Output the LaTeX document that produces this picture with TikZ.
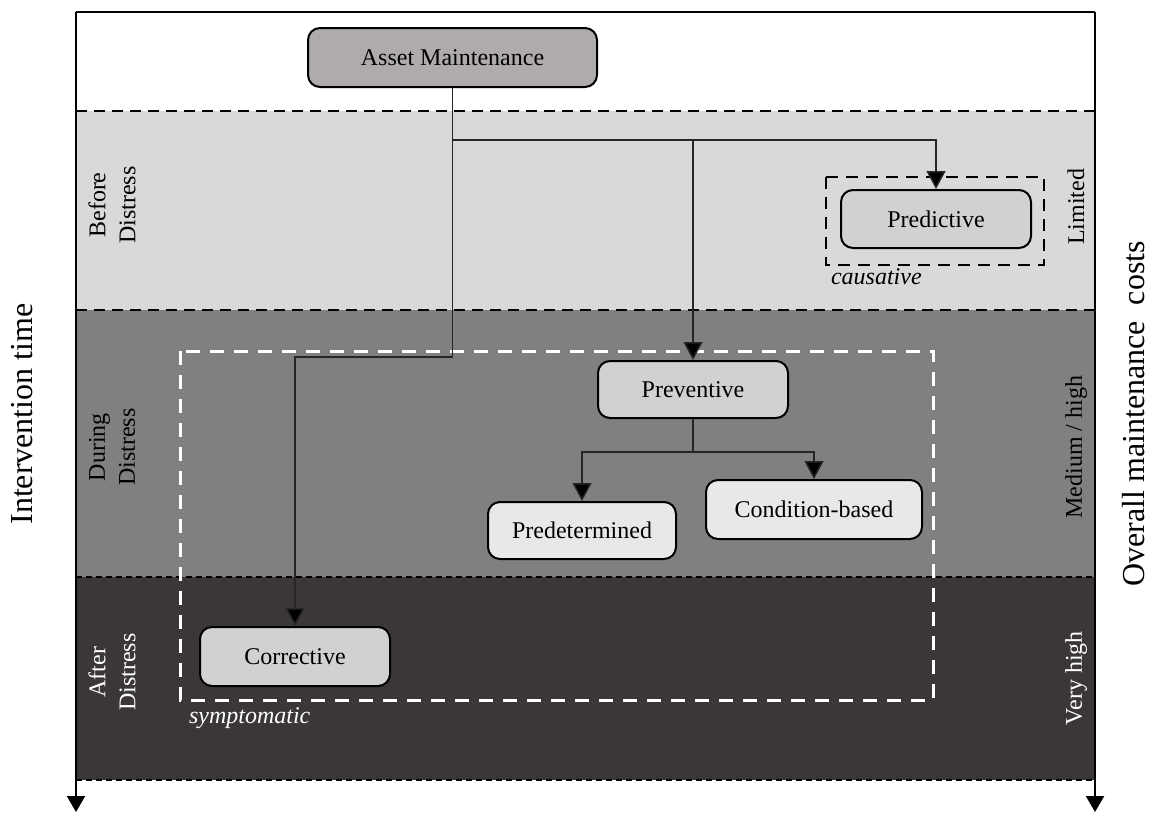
\documentclass[tikz,border=0pt]{standalone}
\usepackage{fontspec}
\setmainfont{Liberation Serif}
\usetikzlibrary{arrows.meta}
\definecolor{bandlight}{HTML}{D9D9D9}
\definecolor{bandmid}{HTML}{808080}
\definecolor{banddark}{HTML}{3B3737}
\definecolor{boxtop}{HTML}{B0ABAB}
\definecolor{boxmid}{HTML}{D3D0D0}
\definecolor{boxpale}{HTML}{E8E8E8}
\definecolor{linkgray}{HTML}{262626}
\tikzset{
  stage/.style={draw=black, line width=1pt, rounded corners=6pt, font=\fontsize{12}{14}\selectfont, inner sep=0pt},
  link/.style={draw=linkgray, line width=0.75pt, -{Triangle[width=9.5pt,length=9pt,fill=black]}},
  plainlink/.style={draw=linkgray, line width=0.75pt},
  axis/.style={draw=black, line width=1pt, -{Triangle[width=9pt,length=8pt]}},
  sep/.style={draw=black, line width=1.2pt, dash pattern=on 5.5pt off 3.5pt},
  sepfine/.style={draw=black, line width=0.8pt, dash pattern=on 3pt off 2pt},
  sidelabel/.style={rotate=90, align=center, font=\fontsize{12}{15}\selectfont},
  axislabel/.style={rotate=90, font=\fontsize{16}{19}\selectfont},
  tag/.style={font=\fontsize{12}{14}\selectfont\itshape, anchor=west},
}
\begin{document}
\begin{tikzpicture}[x=0.5pt,y=-0.5pt]
\useasboundingbox (0,0) rectangle (1149,814);

% bands of the time axis
\fill[bandlight] (76,111) rectangle (1095,310);
\fill[bandmid]   (76,310) rectangle (1095,577);
\fill[banddark]  (76,577) rectangle (1095,780);

% separators between bands
\draw[sep] (76,111) -- (1095,111);
\draw[sep] (76,310) -- (1095,310);
\draw[sepfine] (76,577) -- (1095,577);
\draw[sepfine] (76,780) -- (1095,780);

% frame and the two axes
\draw[black, line width=1pt] (76,12) -- (1095,12);
\coordinate (ltop) at (76,12);
\coordinate (lend) at (76,812);
\coordinate (rtop) at (1095,12);
\coordinate (rend) at (1095,812);
\draw[axis] (ltop) -- (lend);
\draw[axis] (rtop) -- (rend);

% grouping frames
\draw[white, line width=1.5pt, dash pattern=on 7pt off 5pt] (180,351) rectangle (933,700);
\draw[black, line width=1pt, dash pattern=on 6pt off 4pt] (826,177) rectangle (1044,265);

% maintenance types
\node[stage, fill=boxtop, minimum width=144.5pt, minimum height=29.5pt] (am) at (452.5,57.5) {Asset Maintenance};
\node[stage, fill=boxmid, minimum width=95pt, minimum height=29pt] (pred) at (936,219) {Predictive};
\node[stage, fill=boxmid, minimum width=95pt, minimum height=28.5pt] (prev) at (693,389.5) {Preventive};
\node[stage, fill=boxpale, minimum width=94pt, minimum height=28.5pt] (pdet) at (582,530.5) {Predetermined};
\node[stage, fill=boxpale, minimum width=108pt, minimum height=29.5pt] (cond) at (814,509.5) {Condition-based};
\node[stage, fill=boxmid, minimum width=95pt, minimum height=29.5pt] (corr) at (295,656.5) {Corrective};

% connectors
\coordinate (yfork) at (0,140);
\coordinate (ycorr) at (0,357);
\coordinate (ysub) at (0,452);
\draw[plainlink] (am.south) -- (am.south |- ycorr);
\draw[link] (am.south |- ycorr) -| (corr.north);
\draw[link] (am.south |- yfork) -| (pred.north);
\draw[link] (prev.north |- yfork) -- (prev.north);
\draw[plainlink] (prev.south) -- (prev.south |- ysub);
\draw[link] (prev.south |- ysub) -| (pdet.north);
\draw[link] (prev.south |- ysub) -| (cond.north);

% group tags
\node[tag, text=black] (caus) at (824,277) {causative};
\node[tag, text=white] (symp) at (182,718) {symptomatic};

% stage labels on the left
\node[sidelabel, text=black] (lbefore) at (112,205) {Before\\Distress};
\node[sidelabel, text=black] (lduring) at (112,447) {During\\Distress};
\node[sidelabel, text=white] (lafter) at (112,672) {After\\Distress};

% cost labels on the right
\node[sidelabel, text=black] (climited) at (1076,207) {Limited};
\node[sidelabel, text=black] (cmedium) at (1076,447) {Medium / high};
\node[sidelabel, text=white] (cvery) at (1076,678) {Very high};

% axis titles
\node[axislabel] (tintervention) at (22,414) {Intervention time};
\node[axislabel] (tcosts) at (1134,414) {Overall maintenance\ \ costs};
\end{tikzpicture}
\end{document}
